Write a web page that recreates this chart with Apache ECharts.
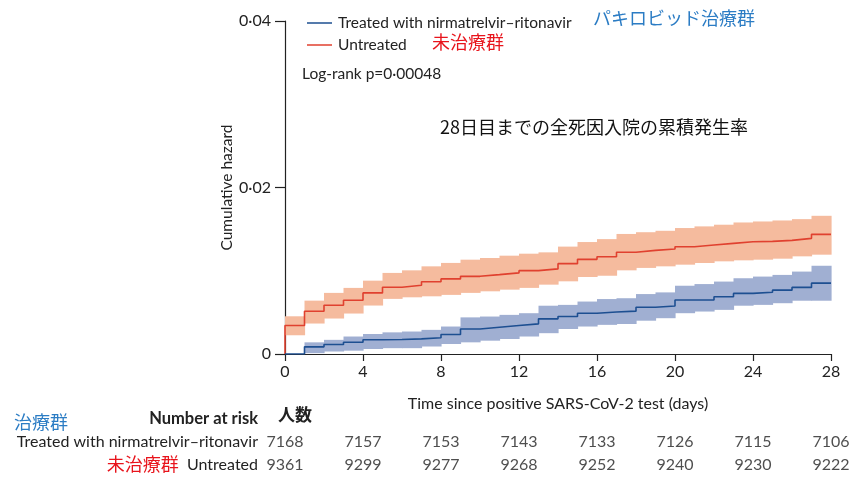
<!DOCTYPE html>
<html><head><meta charset="utf-8">
<script src="https://cdn.jsdelivr.net/npm/echarts@6/dist/echarts.min.js"></script>
<style>html,body{margin:0;padding:0;background:#fff}#c{width:861px;height:490px}</style>
</head><body><div id="c"></div><script>
// ---- data ----
const dayTicks = [0, 4, 8, 12, 16, 20, 24, 28];
// cumulative hazard held from day i to day i+1 (i = 0..27)
const treatedHazard = [0, 0.00086, 0.00114, 0.00141, 0.00172, 0.00174, 0.00182, 0.00196, 0.00234, 0.0030,
  0.00321, 0.00342, 0.00362, 0.00422, 0.00450, 0.00490, 0.00505, 0.00515, 0.00561, 0.00577,
  0.00648, 0.00650, 0.00687, 0.00728, 0.00741, 0.00767, 0.00800, 0.00851];
const treatedUpper = [0, 0.0014, 0.0017, 0.0021, 0.0024, 0.0026, 0.0027, 0.0029, 0.0033, 0.0044,
  0.0045, 0.0047, 0.0049, 0.0058, 0.0059, 0.0063, 0.0066, 0.0067, 0.0072, 0.0074,
  0.0082, 0.0084, 0.0087, 0.0091, 0.0093, 0.0095, 0.0099, 0.0106];
const treatedLower = [0, 0.0001, 0.0003, 0.0004, 0.0006, 0.0007, 0.0007, 0.0009, 0.0012, 0.0014,
  0.0016, 0.0018, 0.0021, 0.0025, 0.0030, 0.0033, 0.0035, 0.0036, 0.0040, 0.0043,
  0.0049, 0.0051, 0.0053, 0.0058, 0.0059, 0.0061, 0.0064, 0.0064];
const untreatedHazard = [0.00342, 0.00513, 0.00585, 0.00645, 0.00734, 0.00801, 0.00825, 0.00868, 0.00902, 0.00933,
  0.00953, 0.00974, 0.01001, 0.01022, 0.01085, 0.01137, 0.01169, 0.01222, 0.01245, 0.01261,
  0.01289, 0.01309, 0.01329, 0.01349, 0.01353, 0.01365, 0.01389, 0.01437];
const untreatedUpper = [0.00453, 0.00641, 0.00734, 0.00794, 0.00881, 0.00974, 0.01005, 0.01053, 0.01094, 0.01133,
  0.01153, 0.01181, 0.01205, 0.01221, 0.01290, 0.01345, 0.01380, 0.01442, 0.01463, 0.01480,
  0.01513, 0.01533, 0.01553, 0.01580, 0.01592, 0.01604, 0.01620, 0.01660];
const untreatedLower = [0.00225, 0.00366, 0.00426, 0.00486, 0.00582, 0.00662, 0.00681, 0.00693, 0.00710, 0.00734,
  0.00753, 0.00773, 0.00794, 0.00833, 0.00873, 0.00925, 0.00940, 0.01005, 0.01034, 0.01053,
  0.01073, 0.01093, 0.01113, 0.01125, 0.01133, 0.01145, 0.01173, 0.01193];
const riskTreated = [7168, 7157, 7153, 7143, 7133, 7126, 7115, 7106];
const riskUntreated = [9361, 9299, 9277, 9268, 9252, 9240, 9230, 9222];

const nameTreated = 'Treated with nirmatrelvir–ritonavir';
const nameUntreated = 'Untreated';

// ---- styling ----
const FONT = 'Lato, "Noto Sans", sans-serif';
const JP = '"Noto Sans CJK JP", sans-serif';
const RED_LINE = '#e0412f', BLUE_LINE = '#1d4f91';
const RED_BAND = '#f5bb9e', BLUE_BAND = '#a0afd2';
const JP_BLUE = '#2b7cc4', JP_RED = '#e8141c';

function stepData(vals) {
  const d = vals.map((v, i) => [i, v]);
  d.push([vals.length, vals[vals.length - 1]]);
  return d;
}
function bandSeries(lower, upper, color) {
  return {
    type: 'custom', xAxisIndex: 0, yAxisIndex: 0, z: 1, silent: true,
    data: lower.map((l, i) => [i, l, upper[i]]),
    encode: { x: 0, y: [1, 2] },
    renderItem: (params, api) => {
      const x0 = api.value(0), lo = api.value(1), hi = api.value(2);
      if (hi <= lo) return;
      const p0 = api.coord([x0, hi]);
      const p1 = api.coord([x0 + 1, lo]);
      return { type: 'rect', shape: { x: p0[0], y: p0[1], width: p1[0] - p0[0] + 0.6, height: p1[1] - p0[1] },
        style: { fill: color } };
    }
  };
}
const fmtY = v => v === 0 ? '0' : v.toFixed(2).replace('.', '·');

const chart = echarts.init(document.getElementById('c'));
chart.setOption({
  animation: false,
  backgroundColor: '#fff',
  textStyle: { fontFamily: FONT },
  grid: [
    { left: 285, right: 30, top: 21, bottom: 136, containLabel: false },
    { left: 285, right: 30, top: 430, height: 46, containLabel: false }
  ],
  xAxis: [
    { gridIndex: 0, type: 'value', min: 0, max: 28, interval: 4,
      name: 'Time since positive SARS-CoV-2 test (days)', nameLocation: 'middle', nameGap: 42,
      nameMoveOverlap: false,
      nameTextStyle: { fontSize: 16, color: '#222', fontFamily: FONT },
      axisLine: { lineStyle: { color: '#222', width: 1.2 } },
      axisTick: { length: 7, lineStyle: { color: '#222', width: 1.2 } },
      axisLabel: { fontSize: 16, color: '#222', margin: 10, fontFamily: FONT },
      splitLine: { show: false } },
    { gridIndex: 1, type: 'value', min: 0, max: 28, show: false }
  ],
  yAxis: [
    { gridIndex: 0, type: 'value', min: 0, max: 0.04, interval: 0.02,
      name: 'Cumulative hazard', nameLocation: 'middle', nameGap: 50,
      nameMoveOverlap: false,
      nameTextStyle: { fontSize: 15.5, color: '#222', fontFamily: FONT },
      axisLine: { show: true, lineStyle: { color: '#222', width: 1.2 } },
      axisTick: { show: true, length: 10, lineStyle: { color: '#222', width: 1.2 } },
      axisLabel: { fontSize: 16, color: '#222', margin: 14, formatter: fmtY, fontFamily: FONT },
      splitLine: { show: false } },
    { gridIndex: 1, type: 'category', data: ['Untreated', 'Treated'],
      axisLine: { show: false }, axisTick: { show: false },
      axisLabel: { margin: 27, fontSize: 16, color: '#222', fontFamily: FONT,
        formatter: v => v === 'Treated' ? nameTreated : '{r|未治療群}  ' + nameUntreated,
        rich: { r: { color: JP_RED, fontSize: 18, fontFamily: JP } } } }
  ],
  legend: {
    left: 302, top: 10, orient: 'vertical', itemGap: 6,
    itemWidth: 25, itemHeight: 1.5, icon: 'rect',
    textStyle: { fontSize: 15.5, color: '#222', fontFamily: FONT, padding: [0, 0, 0, 1] },
    data: [nameTreated, nameUntreated]
  },
  series: [
    bandSeries(untreatedLower, untreatedUpper, RED_BAND),
    bandSeries(treatedLower, treatedUpper, BLUE_BAND),
    { name: nameUntreated, type: 'line', step: 'end', symbol: 'none', z: 3,
      color: RED_LINE, lineStyle: { color: RED_LINE, width: 1.6 },
      data: [[0, 0]].concat(stepData(untreatedHazard)) },
    { name: nameTreated, type: 'line', step: 'end', symbol: 'none', z: 3,
      color: BLUE_LINE, lineStyle: { color: BLUE_LINE, width: 1.6 },
      data: stepData(treatedHazard) },
    { type: 'scatter', xAxisIndex: 1, yAxisIndex: 1, symbolSize: 0, silent: true,
      data: dayTicks.map((d, i) => [d, 'Treated', riskTreated[i]]).concat(
            dayTicks.map((d, i) => [d, 'Untreated', riskUntreated[i]])),
      label: { show: true, position: 'inside', formatter: p => String(p.value[2]),
        fontSize: 16, color: '#222', fontFamily: FONT } }
  ],
  graphic: [
    { type: 'text', left: 593, top: 9, style: { text: 'パキロビッド治療群', fill: JP_BLUE, font: '18px ' + JP } },
    { type: 'text', left: 432, top: 33, style: { text: '未治療群', fill: JP_RED, font: '18px ' + JP } },
    { type: 'text', left: 302, top: 66, style: { text: 'Log-rank p=0·00048', fill: '#222', font: '15.5px ' + FONT } },
    { type: 'text', left: 440, top: 118, style: { text: '28日目までの全死因入院の累積発生率', fill: '#111', font: '18px ' + JP } },
    { type: 'text', left: 14, top: 413, style: { text: '治療群', fill: JP_BLUE, font: '18px ' + JP } },
    { type: 'text', right: 861 - 258, top: 410, style: { text: 'Number at risk', fill: '#222', font: 'bold 16.5px ' + FONT, textAlign: 'right' } },
    { type: 'text', left: 278, top: 406, style: { text: '人数', fill: '#222', font: 'bold 17px ' + JP } }
  ]
});
</script></body></html>
